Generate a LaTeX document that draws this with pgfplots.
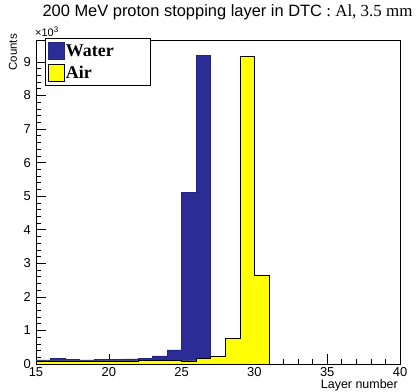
\documentclass[border=0pt]{standalone}
\usepackage{fontspec}
\setmainfont{Liberation Sans}
\newfontfamily\tnr{Liberation Serif}
\usepackage{pgfplots}
\pgfplotsset{compat=1.18}
\definecolor{wblue}{RGB}{44,44,150}
\definecolor{wedge}{RGB}{36,36,130}
\definecolor{ayel}{RGB}{255,255,0}
\begin{document}
\begin{tikzpicture}
\path[use as bounding box] (-36bp,-28bp) rectangle (384bp,364bp);
\begin{axis}[
 at={(0,0)}, anchor=south west,
 scale only axis, width=364bp, height=324bp,
 xmin=15, xmax=40, ymin=0, ymax=9650,
 xtick={15,20,...,40}, minor x tick num=4,
 ytick={0,1000,...,9000}, yticklabels={0,1,2,3,4,5,6,7,8,9}, minor y tick num=4,
 tick align=inside, tick pos=left,
 major tick length=10bp, minor tick length=5bp,
 every tick/.style={black, line width=0.6bp},
 axis line style={black, line width=0.8bp},
 /pgf/number format/assume math mode=true,
 ticklabel style={font=\fontsize{13}{13}\selectfont, inner sep=0pt},
 xticklabel style={yshift=-3bp},
 yticklabel style={xshift=-5bp},
 scaled y ticks=false,
 legend style={at={(0.0247,1.006)}, anchor=north west, draw=black, line width=0.8bp, fill=white,
   font=\tnr\bfseries\fontsize{18}{18}\selectfont, inner xsep=3bp, inner ysep=4bp, row sep=4bp,
   nodes={inner sep=1bp}},
 legend cell align=left,
 legend image code/.code={\fill[#1] (0bp,-8.5bp) rectangle (16bp,8.5bp);},
]
\addplot[fill=wblue, draw=wedge, line width=0.6bp, const plot mark left] coordinates {
 (15,120) (16,170) (17,140) (18,125) (19,140) (20,130) (21,150) (22,170) (23,240) (24,420)
 (25,5100) (26,9180) (27,0) (40,0)} \closedcycle;
\addlegendentry{\makebox[80bp][l]{Water}}
\addplot[fill=ayel, draw=black, line width=0.6bp, const plot mark left] coordinates {
 (15,90) (16,95) (17,90) (18,95) (19,90) (20,95) (21,95) (22,100) (23,105) (24,110)
 (25,95) (26,170) (27,220) (28,780) (29,9150) (30,2650) (31,0)} \closedcycle;
\addlegendentry{\makebox[80bp][l]{Air}}
\end{axis}
\node[anchor=base, inner sep=0pt, font=\fontsize{16.5}{16.5}\selectfont] at (191.5bp,347bp)
  {200 MeV proton stopping layer in DTC{\tnr\fontsize{17}{17}\selectfont\ : Al, 3.5 mm}};
\node[anchor=base west, inner sep=0pt, font=\fontsize{11}{11}\selectfont] at (-1bp,327bp)
  {×10\raisebox{4.5bp}{\fontsize{8}{8}\selectfont 3}};
\node[rotate=90, anchor=east, inner sep=0pt, font=\fontsize{11.5}{11.5}\selectfont] at (-23bp,330bp) {Counts};
\node[anchor=east, inner sep=0pt, font=\fontsize{12.5}{12.5}\selectfont] at (362bp,-21bp) {Layer number};
\end{tikzpicture}
\end{document}
